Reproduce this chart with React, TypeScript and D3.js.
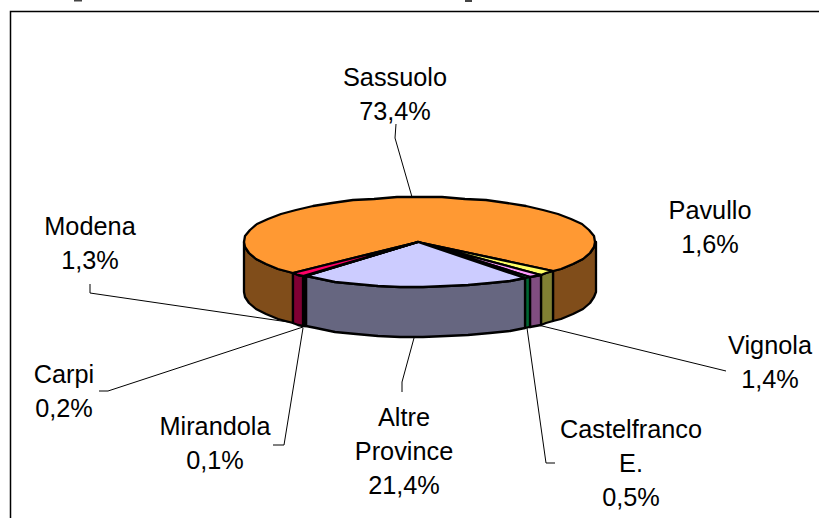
import React from "react";
import * as d3 from "d3";

const categories = ["Sassuolo", "Pavullo", "Vignola", "Castelfranco E.", "Altre Province", "Mirandola", "Carpi", "Modena"];
const shares = [73.4, 1.6, 1.4, 0.5, 21.4, 0.1, 0.2, 1.3];
const topColors = ["#FF9933", "#FFFF66", "#FF99FF", "#00CC66", "#CCCCFF", "#000000", "#000000", "#FF0066"];
const sideColors = ["#804D1A", "#808033", "#804D80", "#006633", "#666680", "#000000", "#000000", "#800033"];
const labelLines = [["Sassuolo", "73,4%"], ["Pavullo", "1,6%"], ["Vignola", "1,4%"], ["Castelfranco", "E.", "0,5%"], ["Altre", "Province", "21,4%"], ["Mirandola", "0,1%"], ["Carpi", "0,2%"], ["Modena", "1,3%"]];
const labelCenters: [number, number][] = [[395, 77], [710, 210], [770, 345], [631, 429], [404, 417], [215, 426], [64, 374], [90, 226]];
const leaders: [number, number][][] = [
  [[412, 197], [395, 138], [396, 124]],
  [],
  [[538, 325], [726, 371]],
  [[527, 328], [546, 463], [555, 463]],
  [[414, 338], [402, 382], [402, 392]],
  [[303, 328], [284, 445], [273, 445]],
  [[303, 327], [108, 391], [99, 391]],
  [[295, 323], [90, 293], [90, 284]],
];
const titleRemnants: [number, number, number, number][] = [[74, 0, 8, 1.5], [465, 0, 7, 2]];

const W = 819, H = 518;
const cx = 418, cy = 242, rimCx = 419.5, rx = 176, ry = 45, depth = 50;
const startDeg = -134;

const x = d3.scaleLinear().domain([-1, 1]).range([rimCx - rx, rimCx + rx]);
const y = d3.scaleLinear().domain([-1, 1]).range([cy - ry, cy + ry]);
const pieGen = d3.pie<number>().sort(null).startAngle((startDeg * Math.PI) / 180).endAngle(((startDeg + 360) * Math.PI) / 180);
const line = d3.line();
const STEP = 0.13;

function rim(a0: number, a1: number, dz = 0): [number, number][] {
  const forward = a1 >= a0;
  const lo = Math.min(a0, a1), hi = Math.max(a0, a1);
  const inner = d3.range(Math.ceil(lo / STEP + 0.01), hi / STEP).map((k) => k * STEP);
  const angles = [lo, ...inner, hi];
  if (!forward) angles.reverse();
  return angles.map((a) => [Math.round(x(Math.sin(a))), Math.round(y(-Math.cos(a)) + dz)] as [number, number]);
}

export default function App() {
  const arcs = pieGen(shares);
  const sides: React.ReactNode[] = [];
  arcs.forEach((d, i) => {
    const ranges: [number, number][] = [];
    for (const [lo, hi] of [[Math.PI / 2, (3 * Math.PI) / 2], [Math.PI / 2 - 2 * Math.PI, (3 * Math.PI) / 2 - 2 * Math.PI]]) {
      const a0 = Math.max(d.startAngle, lo), a1 = Math.min(d.endAngle, hi);
      if (a1 > a0) ranges.push([a0, a1]);
    }
    ranges.forEach(([a0, a1], j) => {
      const pts = [...rim(a0, a1), ...rim(a1, a0, depth)];
      sides.push(<path key={`s${i}-${j}`} d={line(pts) + "Z"} fill={sideColors[i]} stroke="#000" strokeWidth={2.3} strokeLinejoin="round" />);
    });
  });
  return (
    <svg width={W} height={H} style={{ position: "absolute", left: 0, top: 0, background: "#fff" }} fontFamily="'Liberation Sans', Arial, sans-serif">
      {titleRemnants.map(([a, b, c, e], i) => <rect key={i} x={a} y={b} width={c} height={e} fill="#444" />)}
      <path d={`M10.5 518V11.5H819`} fill="none" stroke="#000" strokeWidth={1.5} />
      {leaders.map((l, i) => l.length ? <path key={i} d={line(l) ?? ""} fill="none" stroke="#000" strokeWidth={1} /> : null)}
      {sides}
      {arcs.map((d, i) => (
        <path key={i} d={line([[cx, cy], ...rim(d.startAngle, d.endAngle)]) + "Z"} fill={topColors[i]} stroke="#000" strokeWidth={2.3} strokeLinejoin="round" />
      ))}
      {labelLines.map((ls, i) =>
        ls.map((t, j) => (
          <text key={`${i}-${j}`} x={labelCenters[i][0]} y={labelCenters[i][1] + j * 34 + 9} textAnchor="middle" fontSize={25.3} fill="#000">{t}</text>
        ))
      )}
    </svg>
  );
}
